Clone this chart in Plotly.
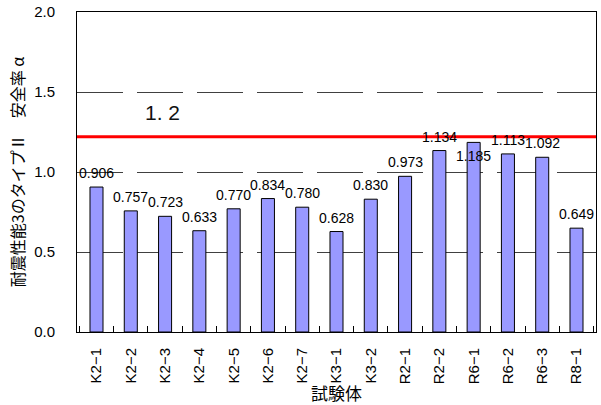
import plotly.graph_objects as go

categories = ["K2−1", "K2−2", "K2−3", "K2−4", "K2−5", "K2−6", "K2−7", "K3−1", "K3−2",
              "R2−1", "R2−2", "R6−1", "R6−2", "R6−3", "R8−1"]
values = [0.906, 0.757, 0.723, 0.633, 0.770, 0.834, 0.780, 0.628, 0.830,
          0.973, 1.134, 1.185, 1.113, 1.092, 0.649]
threshold = 1.22
threshold_label = "1. 2"
y_ticks = [0.0, 0.5, 1.0, 1.5, 2.0]
x_title = "試験体"
y_title = "耐震性能3のタイプⅡ　安全率 α"

label_below = {"R6−1"}

num_font = "Liberation Sans, Arial, sans-serif"
jp_font = "Noto Sans CJK JP, sans-serif"

fig = go.Figure()
fig.add_trace(go.Bar(
    x=categories, y=values, width=0.38,
    marker=dict(color="#9999FF", line=dict(color="#000000", width=1)),
    hoverinfo="skip",
))

for c, v in zip(categories, values):
    fig.add_annotation(
        x=c, y=v, xref="x", yref="y", text=f"{v:.3f}", showarrow=False,
        yshift=-14 if c in label_below else 14, yanchor="middle",
        font=dict(family=num_font, size=14, color="#000000"),
    )

fig.add_shape(type="line", xref="paper", yref="y", x0=0, x1=1, y0=threshold, y1=threshold,
              line=dict(color="#FF0000", width=3), layer="above")
fig.add_annotation(x=0.127, xref="paper", y=threshold, yref="y", yshift=24,
                   text=threshold_label, showarrow=False,
                   font=dict(family=num_font, size=21, color="#111111"))

fig.update_layout(
    width=601, height=405,
    margin=dict(l=77, r=5, t=12, b=73, autoexpand=False),
    paper_bgcolor="white", plot_bgcolor="white",
    showlegend=False,
    font=dict(family=num_font, size=14, color="#000000"),
    xaxis=dict(
        type="category", tickangle=-90, tickson="boundaries", automargin=False,
        ticks="inside", ticklen=6, tickcolor="#000000", tickwidth=1,
        showline=True, linecolor="#000000", linewidth=1, mirror=True,
        showgrid=False, tickfont=dict(family=num_font, size=15),
        ticklabelstandoff=9, ticklabeloverflow="allow",
        title=dict(text=x_title, font=dict(family=jp_font, size=17), standoff=13),
    ),
    yaxis=dict(
        range=[0, 2], tickvals=y_ticks, ticktext=[f"{t:.1f}" for t in y_ticks],
        automargin=False, ticklabeloverflow="allow",
        showline=True, linecolor="#000000", linewidth=1, mirror=True,
        showgrid=True, gridcolor="#404040", gridwidth=1, griddash="46px,14px",
        zeroline=False, ticks="", ticklabelstandoff=18,
        tickfont=dict(family=num_font, size=15),
        title=dict(text=y_title, font=dict(family=jp_font, size=16), standoff=5),
    ),
)

# remove the browser's default 8px body margin so the figure fills the window
fig.write_html("out.html", config={"displayModeBar": False},
               post_script="document.body.style.margin='0';")
